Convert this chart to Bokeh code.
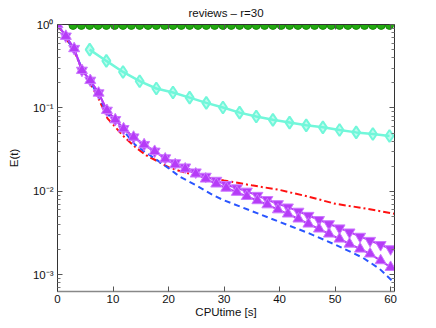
from bokeh.plotting import figure
from bokeh.models import (Range1d, LinearAxis, LogAxis, FixedTicker,
                          CustomJSTickFormatter, ColumnDataSource,
                          CustomLabelingPolicy)
from bokeh.embed import file_html
from bokeh.resources import INLINE

# ---------------- data ----------------
title_text = "reviews \u2013 r=30"
x_label = "CPUtime [s]"
y_label = "E(t)"

x_ticks = [0, 10, 20, 30, 40, 50, 60]
y_ticks = [1e-3, 1e-2, 1e-1, 1.0]

green_x = [2.8, 4.3, 5.8, 7.3, 8.8, 10.3, 11.8, 13.3, 14.8, 16.3, 17.8, 19.3,
           20.8, 22.3, 23.8, 25.3, 26.8, 28.3, 29.8, 31.3, 32.8, 34.3, 35.8,
           37.3, 38.8, 40.3, 41.8, 43.3, 44.8, 46.3, 47.8, 49.3, 50.8, 52.3,
           53.8, 55.3, 56.8, 58.3, 59.8]
green_y = [0.975, 0.975, 0.975, 0.975, 0.975, 0.975, 0.975, 0.975, 0.975,
           0.975, 0.975, 0.975, 0.975, 0.975, 0.975, 0.975, 0.975, 0.975,
           0.975, 0.975, 0.975, 0.975, 0.975, 0.975, 0.975, 0.975, 0.975,
           0.975, 0.975, 0.975, 0.975, 0.975, 0.975, 0.975, 0.975, 0.975,
           0.975, 0.975, 0.975]

cyan_x = [5.8, 8.8, 11.8, 14.8, 17.8, 20.8, 23.8, 26.8, 29.8, 32.8, 35.8,
          38.8, 41.8, 44.8, 47.8, 50.8, 53.8, 56.8, 59.8]
cyan_y = [0.50, 0.366, 0.27, 0.209, 0.171, 0.153, 0.133, 0.115, 0.101,
          0.0879, 0.079, 0.072, 0.0667, 0.0618, 0.0585, 0.0543, 0.0509,
          0.0486, 0.046]

red_x = [0, 1.5, 3, 4.5, 6, 7.5, 9, 10.5, 12, 14, 16, 18, 20, 22, 25, 30,
         35, 40, 45, 50, 55, 60, 60.7]
red_y = [1.0, 0.69, 0.48, 0.28, 0.19, 0.125, 0.075, 0.058, 0.045, 0.034,
         0.027, 0.023, 0.0195, 0.0175, 0.0155, 0.0135, 0.0118, 0.0104,
         0.0087, 0.0071, 0.0063, 0.0055, 0.0054]

blue_x = [0, 1.5, 3, 4.5, 6, 7.5, 9, 10.5, 12, 14, 16, 18, 20, 22, 25, 28,
          30, 35, 40, 45, 50, 55, 58, 60.5]
blue_y = [1.0, 0.70, 0.49, 0.29, 0.20, 0.135, 0.085, 0.066, 0.052, 0.036,
          0.029, 0.0235, 0.019, 0.015, 0.0118, 0.009, 0.0078, 0.0058,
          0.0043, 0.0032, 0.0023, 0.0016, 0.00118, 0.00082]

purple_x = [0, 1.5, 3.0, 4.4, 5.9, 7.4, 8.9, 10.4, 11.9, 13.7, 15.6, 17.5,
            19.4, 21.2, 23.0, 24.9, 26.7, 28.6, 30.4, 32.3, 34.1, 36.0,
            37.8, 39.7, 41.5, 43.4, 45.2, 47.1, 48.9, 50.8, 52.6, 54.5,
            56.3, 58.2, 60.0]
purple_down_y = [1.0, 0.724, 0.515, 0.282, 0.214, 0.151, 0.0935, 0.0723,
                 0.0564, 0.0447, 0.0363, 0.0302, 0.0251, 0.0219, 0.0195,
                 0.0170, 0.0151, 0.0135, 0.0120, 0.01096, 0.0100, 0.00891,
                 0.00794, 0.00708, 0.00646, 0.00575, 0.00513, 0.00457,
                 0.00407, 0.00363, 0.00324, 0.00288, 0.00257, 0.00229,
                 0.00204]
purple_up_y = [1.0, 0.724, 0.515, 0.282, 0.214, 0.151, 0.0935, 0.0723,
               0.0564, 0.0447, 0.0363, 0.0302, 0.0245, 0.0209, 0.0186,
               0.0162, 0.0141, 0.0123, 0.01096, 0.00977, 0.00871, 0.00776,
               0.00692, 0.00603, 0.00537, 0.00468, 0.00407, 0.00355,
               0.00309, 0.00269, 0.00234, 0.00204, 0.00178, 0.00148,
               0.00123]

# ---------------- styling ----------------
FONT = "Liberation Sans"
GREEN = "#22aa11"
CYAN = "#72f7da"
RED = "#ff1010"
BLUE = "#2a55ff"
PURPLE = "#b63cf7"
PURPLE_EDGE = "#cc78ff"

p = figure(width=420, height=320, output_backend="svg", toolbar_location=None,
           y_axis_type="log", x_range=Range1d(0, 60.7),
           y_range=Range1d(6.3e-4, 1.0),
           min_border_left=57, min_border_right=26, min_border_top=24,
           min_border_bottom=29, title=title_text)
p.title.align = "center"
p.title.text_font = FONT
p.title.text_font_size = "11.5px"
p.title.text_font_style = "normal"
p.title.text_color = "#111111"
p.title.offset = 0
p.title.standoff = 4

p.xgrid.visible = False
p.ygrid.visible = False
p.outline_line_color = None
p.background_fill_color = "white"
p.border_fill_color = "white"

minor_y = []
for d in [1e-4, 1e-3, 1e-2, 1e-1]:
    for k in range(2, 10):
        v = k * d
        if 6.3e-4 <= v <= 1.0:
            minor_y.append(v)

sup_js = """
const e = Math.round(Math.log10(tick));
const m = {'0':'\u2070','1':'\u00b9','2':'\u00b2','3':'\u00b3','-':'\u207b'};
let s = '';
for (const c of String(e)) s += m[c];
return '10' + s;
"""

hide_all = "for (const i of indices) { indices.unset(i) } return indices"

def style_axis(ax):
    ax.axis_line_color = "#333333"
    ax.axis_line_width = 1
    ax.major_tick_in = 5
    ax.major_tick_out = 0
    ax.minor_tick_in = 3
    ax.minor_tick_out = 0
    ax.major_tick_line_color = "#555555"
    ax.minor_tick_line_color = "#777777"
    ax.major_label_text_font = FONT
    ax.major_label_text_font_size = "11.5px"
    ax.major_label_text_color = "#111111"
    ax.axis_label_text_font = FONT
    ax.axis_label_text_font_size = "11.5px"
    ax.axis_label_text_font_style = "normal"
    ax.axis_label_text_color = "#111111"

xax = p.xaxis[0]
xax.ticker = FixedTicker(ticks=x_ticks, minor_ticks=[])
xax.axis_label = x_label
xax.axis_label_standoff = 0
xax.major_label_standoff = 3
style_axis(xax)
xax.axis_line_color = "#888888"
xax.axis_line_width = 1.5

yax = p.yaxis[0]
yax.ticker = FixedTicker(ticks=y_ticks, minor_ticks=minor_y)
yax.formatter = CustomJSTickFormatter(code=sup_js)
yax.axis_label = y_label
yax.axis_label_standoff = 10
yax.major_label_standoff = 4
style_axis(yax)

top = LinearAxis(ticker=FixedTicker(ticks=x_ticks, minor_ticks=[]))
style_axis(top)
top.major_label_policy = CustomLabelingPolicy(code=hide_all)
top.major_label_text_font_size = "1px"
top.major_label_standoff = 0
p.add_layout(top, "above")

right = LogAxis(ticker=FixedTicker(ticks=y_ticks, minor_ticks=minor_y))
style_axis(right)
right.major_label_policy = CustomLabelingPolicy(code=hide_all)
right.major_label_text_font_size = "1px"
right.major_label_standoff = 0
p.add_layout(right, "right")

# ---------------- series ----------------
src_c = ColumnDataSource(dict(x=cyan_x, y=cyan_y))
p.line("x", "y", source=src_c, line_color=CYAN, line_width=2.5)
p.scatter("x", "y", source=src_c, marker="diamond", size=12,
          fill_color=CYAN, fill_alpha=0.45, line_color=CYAN, line_width=2)

p.line(red_x, red_y, line_color=RED, line_width=2, line_dash="7 3 2 3")
p.line(blue_x, blue_y, line_color=BLUE, line_width=2, line_dash="6 4")

src_pd = ColumnDataSource(dict(x=purple_x, y=purple_down_y))
src_pu = ColumnDataSource(dict(x=purple_x, y=purple_up_y))
p.line("x", "y", source=src_pd, line_color=PURPLE, line_width=2)
p.line("x", "y", source=src_pu, line_color=PURPLE, line_width=2)
p.scatter("x", "y", source=src_pd, marker="inverted_triangle", size=11,
          fill_color=PURPLE, line_color=PURPLE_EDGE, line_width=1)
p.scatter("x", "y", source=src_pu, marker="triangle", size=11,
          fill_color=PURPLE, line_color=PURPLE_EDGE, line_width=1)

src_g = ColumnDataSource(dict(x=green_x, y=green_y))
p.line("x", "y", source=src_g, line_color=GREEN, line_width=2)
p.scatter("x", "y", source=src_g, marker="circle", size=8,
          fill_color=GREEN, line_color="#1a8a0a", line_width=1)

open("out.html", "w").write(file_html(p, INLINE))
